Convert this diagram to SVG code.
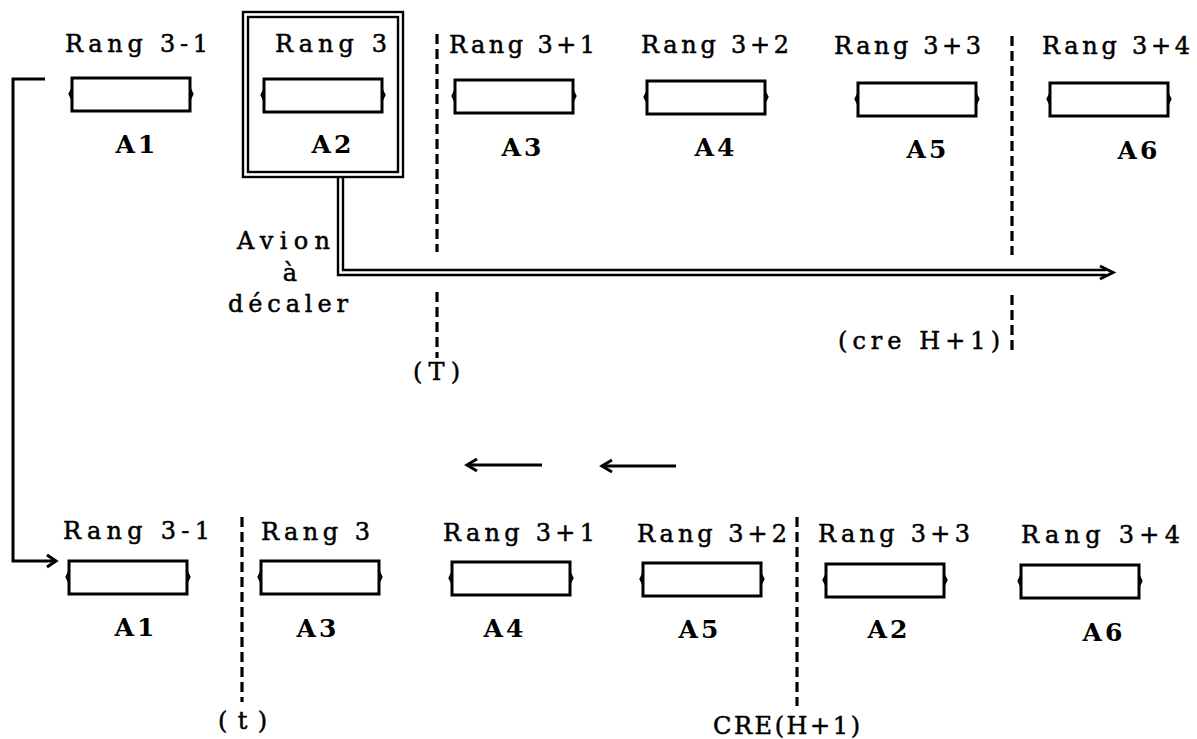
<svg xmlns="http://www.w3.org/2000/svg" xmlns:xlink="http://www.w3.org/1999/xlink" width="1197" height="739" viewBox="0 0 1197 739">
<style>
  text { font-family: "DejaVu Serif", "Liberation Serif", serif; font-size: 24px; fill: #000; stroke: #000; stroke-width: 0.5; }
  .a { font-weight: bold; text-anchor: middle; stroke-width: 0; font-size: 25px; letter-spacing: 3px; }
  .bx { fill: #fff; stroke: #000; stroke-width: 3; }
  .nub { fill: none; stroke: #000; stroke-width: 2.2; }
  .dash { stroke: #000; stroke-width: 3.2; stroke-dasharray: 10 5; fill: none; }
  .ln { stroke: #000; stroke-width: 3; fill: none; }
  .dbl { stroke: #000; stroke-width: 2.4; fill: none; }
</style>
<defs>
  <g id="box">
    <rect class="bx" x="0" y="0" width="118" height="33"/>
    <path class="nub" d="M0,11 l-2.5,5 l2.5,5 M118,11 l2.5,5 l-2.5,5"/>
  </g>
</defs>
<rect width="1197" height="739" fill="#fff"/>

<!-- top row -->
<g id="top-r31"><text x="65" y="52" textLength="143" lengthAdjust="spacing">Rang 3-1</text><use xlink:href="#box" x="72" y="78"/><text class="a" x="137" y="153">A1</text></g>
<g id="top-r3">
  <rect class="dbl" x="243" y="12" width="160" height="165"/>
  <rect class="dbl" x="248" y="17" width="150" height="155"/>
  <text x="275" y="52" textLength="112" lengthAdjust="spacing">Rang 3</text><use xlink:href="#box" x="264" y="79"/><text class="a" x="333" y="153">A2</text></g>
<g id="top-r3p1"><text x="449" y="53" textLength="146" lengthAdjust="spacing">Rang 3+1</text><use xlink:href="#box" x="455" y="80"/><text class="a" x="523" y="156">A3</text></g>
<g id="top-r3p2"><text x="641" y="53" textLength="148" lengthAdjust="spacing">Rang 3+2</text><use xlink:href="#box" x="647" y="81"/><text class="a" x="716" y="156">A4</text></g>
<g id="top-r3p3"><text x="834" y="54" textLength="147" lengthAdjust="spacing">Rang 3+3</text><use xlink:href="#box" x="858" y="83"/><text class="a" x="928" y="158">A5</text></g>
<g id="top-r3p4"><text x="1042" y="54" textLength="148" lengthAdjust="spacing">Rang 3+4</text><use xlink:href="#box" x="1050" y="83"/><text class="a" x="1139" y="159">A6</text></g>

<!-- bottom row -->
<g id="bot-r31"><text x="63" y="539" textLength="147" lengthAdjust="spacing">Rang 3-1</text><use xlink:href="#box" x="69" y="561"/><text class="a" x="136" y="636">A1</text></g>
<g id="bot-r3"><text x="261" y="540" textLength="109" lengthAdjust="spacing">Rang 3</text><use xlink:href="#box" x="261" y="561"/><text class="a" x="318" y="637">A3</text></g>
<g id="bot-r3p1"><text x="443" y="541" textLength="152" lengthAdjust="spacing">Rang 3+1</text><use xlink:href="#box" x="452" y="562"/><text class="a" x="505" y="637">A4</text></g>
<g id="bot-r3p2"><text x="637" y="542" textLength="150" lengthAdjust="spacing">Rang 3+2</text><use xlink:href="#box" x="643" y="563"/><text class="a" x="700" y="638">A5</text></g>
<g id="bot-r3p3"><text x="818" y="542" textLength="152" lengthAdjust="spacing">Rang 3+3</text><use xlink:href="#box" x="826" y="564"/><text class="a" x="889" y="638">A2</text></g>
<g id="bot-r3p4"><text x="1021" y="543" textLength="159" lengthAdjust="spacing">Rang 3+4</text><use xlink:href="#box" x="1021" y="565"/><text class="a" x="1104" y="641">A6</text></g>

<!-- boundaries -->
<g id="bound-T">
  <line class="dash" x1="437" y1="34" x2="437" y2="252"/>
  <line class="dash" x1="437" y1="292" x2="437" y2="358"/>
  <text x="413" y="380" textLength="47" lengthAdjust="spacing">(T)</text>
</g>
<g id="bound-creH1">
  <line class="dash" x1="1012" y1="36" x2="1012" y2="255"/>
  <line class="dash" x1="1012" y1="295" x2="1012" y2="353"/>
  <text x="838" y="349" textLength="162" lengthAdjust="spacing">(cre H+1)</text>
</g>
<g id="bound-t">
  <line class="dash" x1="242" y1="517" x2="242" y2="702"/>
  <text x="218" y="729" textLength="49" lengthAdjust="spacing">(t)</text>
</g>
<g id="bound-CREH1">
  <line class="dash" x1="797" y1="517" x2="797" y2="706"/>
  <text x="713" y="734" textLength="147" lengthAdjust="spacing">CRE(H+1)</text>
</g>

<g id="avion-label">
  <text x="237" y="249" textLength="93" lengthAdjust="spacing">Avion</text>
  <text x="290" y="281" text-anchor="middle">à</text>
  <text x="228" y="312" textLength="120" lengthAdjust="spacing">décaler</text>
</g>

<!-- connectors -->
<g id="connectors">
  <path class="dbl" d="M338,177 V275 H1106"/>
  <path class="dbl" d="M343,177 V270 H1106"/>
  <polyline class="ln" points="1100,266 1113,272.5 1100,279" stroke-width="3"/>
  <path class="ln" d="M45,79 H13 V561 H55"/>
  <polyline class="ln" points="47,555 56,561 47,567" stroke-width="3"/>
  <line class="ln" x1="470" y1="465" x2="542" y2="465"/>
  <polyline class="ln" points="477,459 467,465 477,471" stroke-width="3.4"/>
  <line class="ln" x1="605" y1="466" x2="676" y2="466"/>
  <polyline class="ln" points="612,460 602,466 612,472" stroke-width="3.4"/>
</g>
</svg>
